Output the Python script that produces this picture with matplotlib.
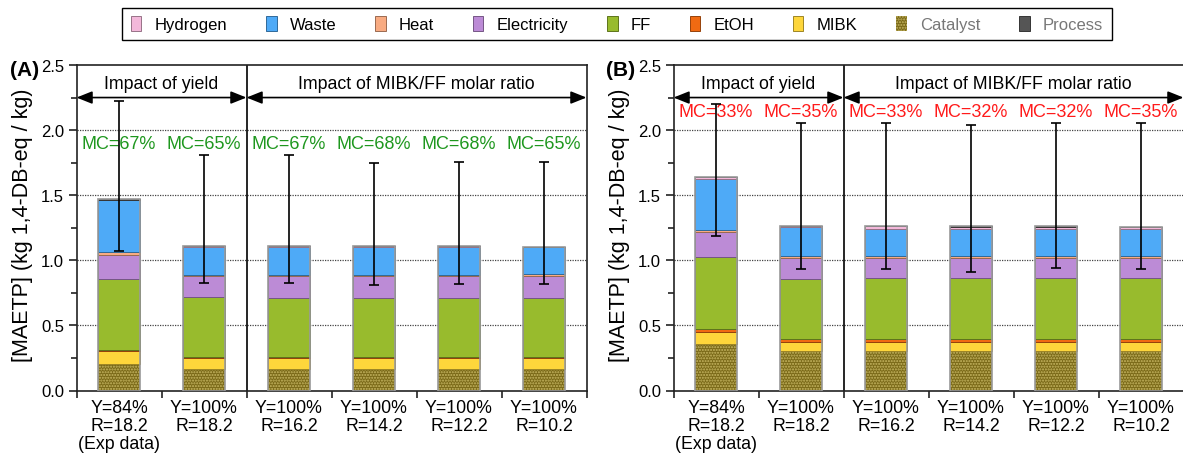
import matplotlib
matplotlib.use('Agg')
import matplotlib.pyplot as plt
import numpy as np
from matplotlib.patches import Patch
from matplotlib.ticker import MultipleLocator, FixedLocator, FormatStrFormatter
from matplotlib import colors as mcolors

plt.rcParams['font.family'] = ['Liberation Sans', 'DejaVu Sans']
plt.rcParams['hatch.linewidth'] = 1.0

# ---------------- data ----------------
categories = ['Y=84%\nR=18.2\n(Exp data)', 'Y=100%\nR=18.2', 'Y=100%\nR=16.2',
              'Y=100%\nR=14.2', 'Y=100%\nR=12.2', 'Y=100%\nR=10.2']
legend_order = ['Hydrogen', 'Waste', 'Heat', 'Electricity', 'FF', 'EtOH', 'MIBK', 'Catalyst', 'Process']
stack_order = ['Catalyst', 'MIBK', 'EtOH', 'FF', 'Electricity', 'Heat', 'Waste', 'Hydrogen', 'Process']

# Panel A
a_catalyst = [0.205, 0.168, 0.168, 0.168, 0.168, 0.168]
a_mibk = [0.095, 0.082, 0.082, 0.082, 0.082, 0.082]
a_etoh = [0.010, 0.006, 0.006, 0.006, 0.006, 0.006]
a_ff = [0.545, 0.460, 0.458, 0.458, 0.458, 0.458]
a_elec = [0.185, 0.160, 0.162, 0.163, 0.163, 0.165]
a_heat = [0.020, 0.012, 0.012, 0.012, 0.012, 0.012]
a_waste = [0.400, 0.214, 0.214, 0.213, 0.213, 0.208]
a_hydrogen = [0.006, 0.004, 0.004, 0.004, 0.004, 0.004]
a_process = [0.002, 0.002, 0.002, 0.002, 0.002, 0.002]
a_err_low = [1.07, 0.825, 0.825, 0.81, 0.82, 0.82]
a_err_high = [2.225, 1.81, 1.81, 1.745, 1.755, 1.755]
a_mc = [67, 65, 67, 68, 68, 65]

# Panel B
b_catalyst = [0.355, 0.300, 0.300, 0.300, 0.300, 0.300]
b_mibk = [0.095, 0.075, 0.075, 0.075, 0.075, 0.075]
b_etoh = [0.020, 0.017, 0.017, 0.017, 0.017, 0.017]
b_ff = [0.555, 0.467, 0.470, 0.470, 0.470, 0.470]
b_elec = [0.190, 0.156, 0.153, 0.153, 0.153, 0.153]
b_heat = [0.020, 0.018, 0.018, 0.018, 0.018, 0.018]
b_waste = [0.390, 0.219, 0.211, 0.211, 0.211, 0.211]
b_hydrogen = [0.015, 0.012, 0.016, 0.014, 0.014, 0.010]
b_process = [0.002, 0.002, 0.002, 0.002, 0.002, 0.002]
b_err_low = [1.187, 0.93, 0.93, 0.913, 0.938, 0.93]
b_err_high = [2.20, 2.054, 2.054, 2.04, 2.054, 2.054]
b_mc = [33, 35, 33, 32, 32, 35]

group_labels = ['Impact of yield', 'Impact of MIBK/FF molar ratio']

# ---------------- styles ----------------
colors = {
    'Hydrogen': '#F3B8DA', 'Waste': '#4EAAF7', 'Heat': '#F8AB82',
    'Electricity': '#BC8BD6', 'FF': '#98BB2D', 'EtOH': '#F06A12',
    'MIBK': '#FED63B', 'Catalyst': '#7A6918', 'Process': '#555555',
}
cat_dot = '#C8B864'


def darker(c, f=0.62):
    r, g, b = mcolors.to_rgb(c)
    return (r * f, g * f, b * f)


W, H = 1183, 456
fig = plt.figure(figsize=(W / 100, H / 100), dpi=100)
ax_bottom = 1 - 391.5 / H
ax_h = 325.5 / H
axA = fig.add_axes([76.5 / W, ax_bottom, 510 / W, ax_h])
axB = fig.add_axes([673.5 / W, ax_bottom, 510 / W, ax_h])

width = 0.5


def draw_panel(ax, data, err_lo, err_hi, mc, mc_color, mc_y):
    x = np.arange(len(categories))
    bottom = np.zeros(len(categories))
    for name in stack_order:
        vals = np.array(data[name], dtype=float)
        if name == 'Catalyst':
            ax.bar(x, vals, width, bottom=bottom, color=colors[name], edgecolor=cat_dot,
                   hatch='......', linewidth=0, zorder=2)
        else:
            ax.bar(x, vals, width, bottom=bottom, color=colors[name],
                   edgecolor=darker(colors[name]), linewidth=0.7, zorder=2)
        bottom = bottom + vals
    ax.bar(x, bottom, width, fill=False, edgecolor='#9a9a9a', linewidth=1.2, zorder=3)
    lo = np.array(err_lo)
    hi = np.array(err_hi)
    ax.errorbar(x, bottom, yerr=[bottom - lo, hi - bottom], fmt='none', ecolor='black',
                elinewidth=1.2, capsize=3.6, capthick=1.2, zorder=5)
    for i, v in enumerate(mc):
        ax.text(x[i], mc_y, f'MC={v}%', ha='center', va='center', color=mc_color,
                fontsize=13, zorder=4)

    ax.set_xlim(-0.5, len(categories) - 0.5)
    ax.set_ylim(0, 2.5)
    ax.yaxis.set_major_locator(MultipleLocator(0.5))
    ax.yaxis.set_minor_locator(MultipleLocator(0.25))
    ax.yaxis.set_major_formatter(FormatStrFormatter('%.1f'))
    ax.set_xticks(x)
    ax.set_xticklabels(categories, linespacing=1.1)
    ax.xaxis.set_minor_locator(FixedLocator(np.arange(-0.5, len(categories), 1.0)))
    ax.tick_params(axis='x', which='major', length=0, pad=6, labelsize=12.8)
    ax.tick_params(axis='x', which='minor', length=5, width=1.2, direction='out', color='#222')
    ax.tick_params(axis='y', which='major', length=6, width=1.2, direction='out',
                   labelsize=12, pad=3, color='#222')
    ax.tick_params(axis='y', which='minor', length=4, width=1.2, direction='out', color='#222')
    for s in ax.spines.values():
        s.set_linewidth(1.2)
        s.set_color('#222222')
    for gy in [0.5, 1.0, 1.5, 2.0]:
        ax.axhline(gy, color='#444444', lw=0.9, ls=(0, (1, 1)), zorder=1)

    ax.axvline(1.5, color='black', lw=1.2, zorder=1.5)
    arrow_y = 2.25
    ap = dict(arrowstyle='<|-|>,head_length=0.95,head_width=0.38', color='black', lw=1.2,
              shrinkA=0, shrinkB=0, mutation_scale=10)
    ax.annotate('', xy=(1.5, arrow_y), xytext=(-0.5, arrow_y), arrowprops=ap, zorder=6)
    ax.annotate('', xy=(len(categories) - 0.5, arrow_y), xytext=(1.5, arrow_y), arrowprops=ap, zorder=6)
    ax.text(0.5, 2.36, group_labels[0], ha='center', va='center', fontsize=12.8)
    ax.text(3.5, 2.36, group_labels[1], ha='center', va='center', fontsize=12.8)

    ax.set_ylabel('[MAETP] (kg 1,4-DB-eq / kg)', fontsize=15.5)
    ax.yaxis.set_label_coords(-0.085, 0.51)


data_a = {'Catalyst': a_catalyst, 'MIBK': a_mibk, 'EtOH': a_etoh, 'FF': a_ff,
          'Electricity': a_elec, 'Heat': a_heat, 'Waste': a_waste,
          'Hydrogen': a_hydrogen, 'Process': a_process}
data_b = {'Catalyst': b_catalyst, 'MIBK': b_mibk, 'EtOH': b_etoh, 'FF': b_ff,
          'Electricity': b_elec, 'Heat': b_heat, 'Waste': b_waste,
          'Hydrogen': b_hydrogen, 'Process': b_process}

draw_panel(axA, data_a, a_err_low, a_err_high, a_mc, '#1E971E', 1.90)
draw_panel(axB, data_b, b_err_low, b_err_high, b_mc, '#FF1A1A', 2.14)

fig.text(10 / W, 1 - 71 / H, '(A)', fontsize=15, fontweight='bold', ha='left', va='center')
fig.text(606 / W, 1 - 71 / H, '(B)', fontsize=15, fontweight='bold', ha='left', va='center')

handles = []
for name in legend_order:
    if name == 'Catalyst':
        handles.append(Patch(facecolor=colors[name], edgecolor=cat_dot, hatch='......',
                             linewidth=0, label=name))
    else:
        handles.append(Patch(facecolor=colors[name], edgecolor=darker(colors[name]),
                             linewidth=0.7, label=name))
leg = fig.legend(handles=handles, ncol=9, loc='center', bbox_to_anchor=(0.5215, 0.945),
                 fontsize=12, frameon=True, fancybox=False, edgecolor='black', framealpha=1,
                 handlelength=0.65, handleheight=1.0, handletextpad=0.8, columnspacing=2.3,
                 borderpad=0.5, borderaxespad=0)
leg.get_frame().set_linewidth(1.0)
for t in leg.get_texts():
    if t.get_text() in ('Catalyst', 'Process'):
        t.set_color('#777777')

fig.savefig('out.png', dpi=100)
